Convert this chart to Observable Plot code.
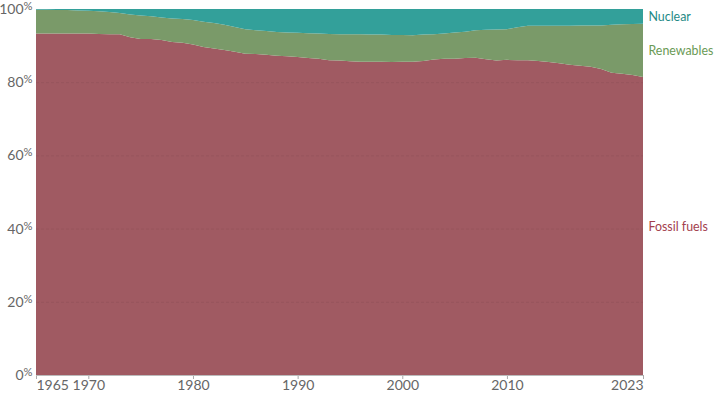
<!DOCTYPE html>
<html>
<head>
<meta charset="utf-8">
<script src="https://cdn.jsdelivr.net/npm/d3@7"></script>
<script src="https://cdn.jsdelivr.net/npm/@observablehq/plot@0.6"></script>
<style>
  body { margin: 0; background: #fff; font-family: Lato, "Noto Sans", sans-serif; }
  #chart svg { display: block; overflow: visible; }
</style>
</head>
<body>
<div id="chart"></div>
<script>
const years = d3.range(1965, 2024);
// Share of primary energy (%)
const fossil = [93.3,93.3,93.3,93.3,93.3,93.3,93.2,93.1,93.1,92.3,
  91.8,91.8,91.5,91.0,90.8,90.3,89.6,89.2,88.8,88.3,
  87.8,87.7,87.5,87.2,87.1,86.9,86.6,86.4,86.0,85.9,
  85.7,85.6,85.6,85.6,85.5,85.6,85.6,85.8,86.2,86.4,
  86.4,86.6,86.7,86.3,85.9,86.1,86.0,86.0,85.8,85.5,
  85.2,84.8,84.5,84.2,83.6,82.6,82.3,82.0,81.4];
const fossilPlusRenew = [99.8,99.8,99.7,99.7,99.6,99.5,99.4,99.2,98.9,98.5,
  98.2,98.0,97.7,97.4,97.3,97.0,96.5,96.2,95.7,95.1,
  94.5,94.2,94.0,93.7,93.6,93.5,93.4,93.3,93.2,93.1,
  93.1,93.1,93.0,93.0,92.9,92.9,92.8,93.0,93.1,93.3,
  93.6,93.8,94.2,94.3,94.4,94.5,95.0,95.4,95.4,95.4,
  95.4,95.4,95.5,95.5,95.5,95.7,95.8,95.9,96.0];
const renewables = fossilPlusRenew.map((v, i) => +(v - fossil[i]).toFixed(2));
const nuclear = fossilPlusRenew.map(v => +(100 - v).toFixed(2));

const seriesNames = ["Fossil fuels", "Renewables", "Nuclear"];
const seriesValues = [fossil, renewables, nuclear];
const areaColors = ["#a05a62", "#7a9a69", "#33a09a"];
const labelColors = ["#a3404d", "#6a9a55", "#1f8a86"];
const xTicks = [1965, 1970, 1980, 1990, 2000, 2010, 2023];
const yTicks = [0, 20, 40, 60, 80, 100];

const data = [];
seriesNames.forEach((name, s) => {
  years.forEach((year, i) => data.push({year, series: name, value: seriesValues[s][i]}));
});
const last = years.length - 1;
let cum = 0;
const labels = seriesNames.map((name, s) => {
  const v = seriesValues[s][last];
  const mid = cum + v / 2;
  cum += v;
  return {year: years[last], y: mid, series: name};
});

const plot = Plot.plot({
  width: 714,
  height: 394,
  marginLeft: 36,
  marginRight: 71,
  marginTop: 9,
  marginBottom: 19,
  style: {fontFamily: "Lato, sans-serif", fontSize: "14px", color: "#666", background: "#fff", overflow: "visible"},
  x: {domain: [1965, 2023], ticks: xTicks, tickFormat: d => String(d), tickSize: 4, tickPadding: 1, label: null},
  y: {domain: [0, 100], ticks: yTicks, tickFormat: d => d + "%", tickSize: 0, tickPadding: 4, label: null},
  color: {domain: seriesNames, range: areaColors},
  marks: [
    Plot.areaY(data, Plot.stackY({
      x: "year", y: "value", z: "series", fill: "series",
      order: seriesNames
    })),
    Plot.gridY(yTicks.slice(1, -1), {stroke: "#000", strokeOpacity: 0.06, strokeDasharray: "3,2"}),
    Plot.ruleY([0], {stroke: "#bbb"}),
    Plot.text(labels, {
      x: "year", y: "y", text: "series", textAnchor: "start", dx: 5,
      fill: d => labelColors[seriesNames.indexOf(d.series)],
      fontSize: 12.4, fontFamily: "Lato, sans-serif"
    })
  ]
});
document.getElementById("chart").appendChild(plot);

// Render the percent sign smaller and raised, as in the reference
d3.select(plot).selectAll("g[aria-label='y-axis tick label'] text").each(function() {
  const t = d3.select(this);
  const s = t.text();
  if (s.endsWith("%")) {
    t.text(s.slice(0, -1));
    t.append("tspan").attr("font-size", "0.8em").attr("dy", "-0.35em").text("%");
  }
});
// First and last year labels hug the ends of the axis
d3.select(plot).selectAll("g[aria-label='x-axis tick label'] text").each(function() {
  const t = d3.select(this);
  const s = t.text();
  if (s === String(xTicks[0])) t.attr("text-anchor", "start");
  if (s === String(xTicks[xTicks.length - 1])) t.attr("text-anchor", "end");
});
d3.select(plot).selectAll("g[aria-label='x-axis tick'] path").attr("stroke", "#aaa");
</script>
</body>
</html>
